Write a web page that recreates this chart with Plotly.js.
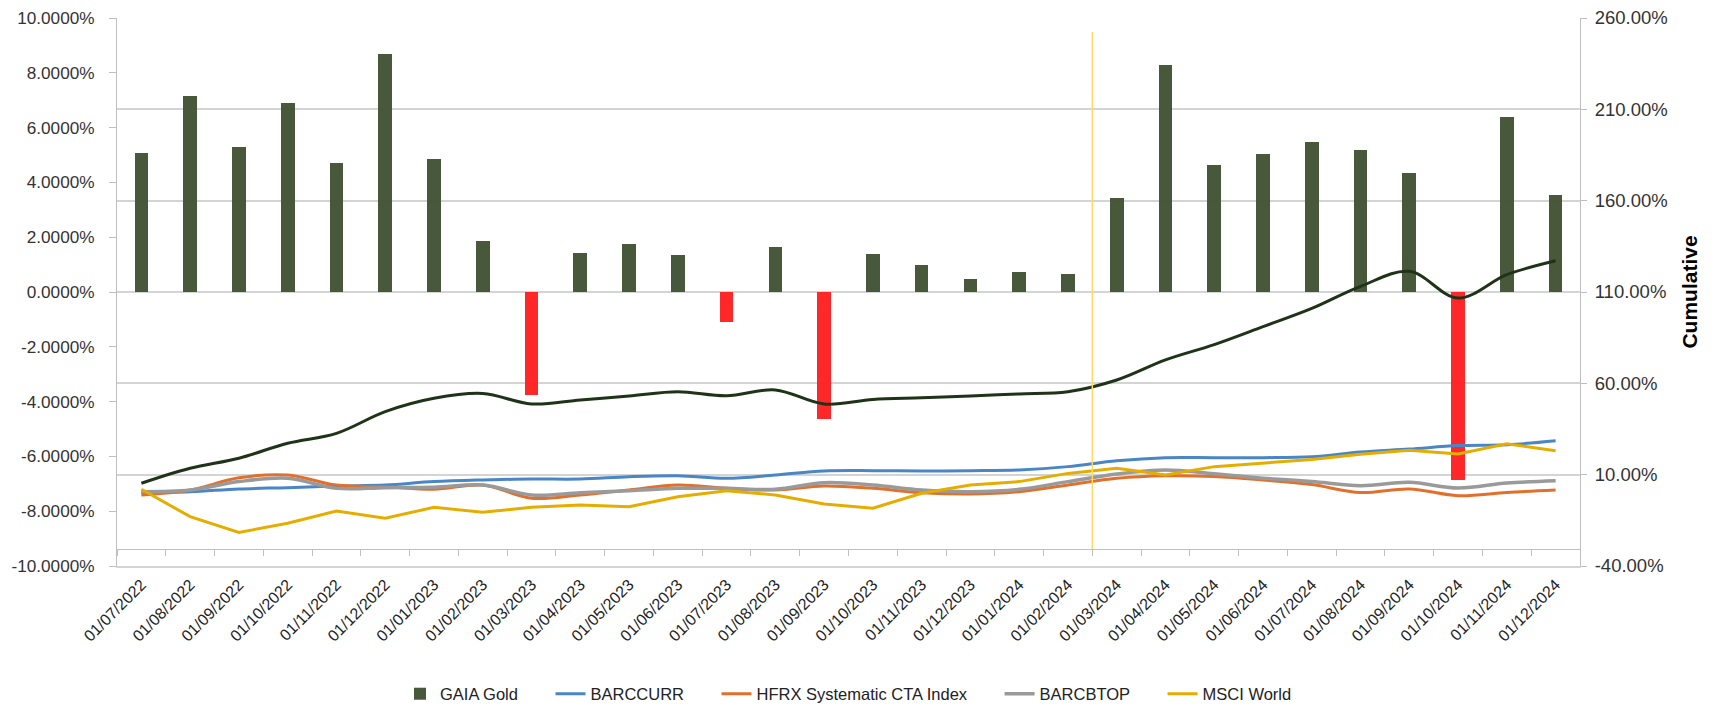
<!DOCTYPE html>
<html>
<head>
<meta charset="utf-8">
<script src="https://cdn.plot.ly/plotly-3.0.1.min.js"></script>
<style>
  html, body { margin: 0; padding: 0; background: #ffffff; }
  #chart { width: 1719px; height: 706px; }
</style>
</head>
<body>
<div id="chart"></div>
<script>
// ---- Data ----
const months = [
  '01/07/2022','01/08/2022','01/09/2022','01/10/2022','01/11/2022','01/12/2022',
  '01/01/2023','01/02/2023','01/03/2023','01/04/2023','01/05/2023','01/06/2023',
  '01/07/2023','01/08/2023','01/09/2023','01/10/2023','01/11/2023','01/12/2023',
  '01/01/2024','01/02/2024','01/03/2024','01/04/2024','01/05/2024','01/06/2024',
  '01/07/2024','01/08/2024','01/09/2024','01/10/2024','01/11/2024','01/12/2024'
];

// GAIA Gold monthly return (%), left axis
const gaiaMonthly = [
  5.06, 7.16, 5.30, 6.89, 4.70, 8.67,
  4.85, 1.85, -3.75, 1.42, 1.75, 1.34,
  -1.11, 1.66, -4.62, 1.39, 0.97, 0.47,
  0.74, 0.66, 3.43, 8.27, 4.62, 5.02,
  5.49, 5.17, 4.34, -6.85, 6.40, 3.53
];

// Cumulative series (%), right axis
const gaiaCumulative = [
  5.3, 13.5, 19.0, 27.2, 32.6, 44.5,
  51.8, 54.5, 48.7, 50.9, 53.1, 55.4,
  53.2, 56.4, 48.7, 51.2, 52.1, 53.1,
  54.2, 55.4, 61.8, 72.8, 81.2, 91.0,
  101.0, 113.1, 121.3, 106.7, 119.5, 127.1
];
const barccurr = [
  0.1, 0.7, 2.2, 2.9, 3.8, 4.3,
  6.2, 7.1, 7.6, 7.6, 8.9, 9.4,
  8.0, 9.8, 12.0, 12.2, 12.0, 12.2,
  12.6, 14.4, 17.6, 19.3, 19.3, 19.3,
  19.8, 22.4, 24.0, 25.9, 26.4, 28.6
];
const hfrx = [
  -1.1, 1.6, 8.3, 9.8, 4.3, 3.4,
  2.0, 4.3, -2.9, -1.1, 1.6, 4.3,
  2.5, 1.6, 3.8, 2.5, 0.1, -0.6,
  0.7, 4.3, 8.0, 9.4, 9.0, 7.1,
  4.6, 0.2, 2.2, -1.5, 0.3, 1.6
];
const barcbtop = [
  0.7, 1.6, 6.2, 8.0, 2.5, 2.9,
  3.1, 4.3, -1.1, 0.1, 1.2, 2.5,
  2.5, 2.0, 5.6, 4.3, 1.6, 0.7,
  2.0, 6.2, 10.4, 12.6, 10.5, 8.1,
  6.2, 4.0, 5.8, 2.7, 5.4, 6.7
];
const msciWorld = [
  2.0, -13.0, -21.6, -16.6, -9.9, -13.9,
  -7.9, -10.6, -7.9, -6.6, -7.5, -2.1,
  1.2, -1.1, -6.1, -8.4, -0.2, 4.3,
  6.2, 10.7, 13.5, 9.8, 14.4, 16.4,
  18.3, 21.2, 23.3, 21.3, 26.9, 23.1
];

// Tick values and labels
const leftTickVals = [-10, -8, -6, -4, -2, 0, 2, 4, 6, 8, 10];
const leftTickText = leftTickVals.map(v => v.toFixed(4) + '%');
const rightTickVals = [-40, 10, 60, 110, 160, 210, 260];
const rightTickText = rightTickVals.map(v => v.toFixed(2) + '%');

// ---- Styling ----
const FONT = 'Liberation Sans, Arial, sans-serif';
const TXT = '#404040';
const AXIS = '#bfbfbf';
const GRID = '#d4d4d4';
const GREEN = '#435335';
const RED = '#ff2121';
const PAD = '\u00A0'.repeat(6);   // spacing after legend entries
const X_RANGE = [-0.5, months.length - 0.5];

const traces = [
  {
    type: 'bar', name: 'GAIA Gold' + PAD, x: months, y: gaiaMonthly,
    marker: { color: gaiaMonthly.map(v => v >= 0 ? GREEN : RED), line: { width: 0 } },
    width: 0.28, xaxis: 'x', yaxis: 'y', opacity: 0.97
  },
  {
    type: 'scatter', mode: 'lines', name: 'GAIA Gold cumulative', showlegend: false,
    x: months, y: gaiaCumulative, xaxis: 'x2', yaxis: 'y2',
    line: { color: '#1f3318', width: 3, shape: 'spline', smoothing: 1 }
  },
  {
    type: 'scatter', mode: 'lines', name: 'BARCCURR' + PAD, x: months, y: barccurr, xaxis: 'x2', yaxis: 'y2',
    line: { color: '#4a86c5', width: 3, shape: 'spline', smoothing: 1 }
  },
  {
    type: 'scatter', mode: 'lines', name: 'HFRX Systematic CTA Index' + PAD, x: months, y: hfrx, xaxis: 'x2', yaxis: 'y2',
    line: { color: '#e0702b', width: 3, shape: 'spline', smoothing: 1 }
  },
  {
    type: 'scatter', mode: 'lines', name: 'BARCBTOP' + PAD, x: months, y: barcbtop, xaxis: 'x2', yaxis: 'y2',
    line: { color: '#9a9a9a', width: 3.5, shape: 'spline', smoothing: 1 }
  },
  {
    type: 'scatter', mode: 'lines', name: 'MSCI World', x: months, y: msciWorld, xaxis: 'x2', yaxis: 'y2',
    line: { color: '#e5ad00', width: 3 }
  }
];

const layout = {
  width: 1719, height: 706,
  margin: { l: 117, r: 139, t: 18, b: 140, pad: 0, autoexpand: false },
  paper_bgcolor: '#ffffff', plot_bgcolor: '#ffffff',
  font: { family: FONT, color: TXT, size: 17 },
  showlegend: true,
  bargap: 0,
  // bottom axis: carries the date labels and the bottom border line
  xaxis: {
    type: 'category', anchor: 'y', side: 'bottom',
    range: X_RANGE, categoryarray: months,
    showline: true, linecolor: GRID, linewidth: 2,
    ticks: '', tickangle: -45,
    tickfont: { family: FONT, size: 16, color: '#222' },
    ticklabelstandoff: 1,
    showgrid: false, zeroline: false, automargin: false, fixedrange: true
  },
  // category axis line with boundary ticks, crossing above the bottom
  xaxis2: {
    type: 'category', overlaying: 'x', anchor: 'free', position: 0.031,
    range: X_RANGE, categoryarray: months,
    showline: true, linecolor: AXIS, linewidth: 1,
    ticks: 'outside', tickson: 'boundaries', ticklen: 6, tickcolor: AXIS,
    showticklabels: false,
    showgrid: false, zeroline: false, automargin: false, fixedrange: true
  },
  yaxis: {
    range: [-10, 10], side: 'left', anchor: 'x',
    tickvals: leftTickVals, ticktext: leftTickText,
    showline: true, linecolor: AXIS, linewidth: 1,
    ticks: 'outside', ticklen: 7, tickcolor: AXIS,
    tickfont: { family: FONT, size: 17.2, color: '#333' },
    ticklabelstandoff: 11,
    showgrid: false, zeroline: false, automargin: false, fixedrange: true
  },
  yaxis2: {
    range: [-40, 260], side: 'right', overlaying: 'y', anchor: 'x2',
    tickvals: rightTickVals, ticktext: rightTickText,
    showline: true, linecolor: AXIS, linewidth: 1,
    ticks: 'outside', ticklen: 6, tickcolor: AXIS,
    tickfont: { family: FONT, size: 18.5, color: '#333' },
    ticklabelstandoff: 4,
    showgrid: true, gridcolor: GRID, gridwidth: 2,
    zeroline: false, automargin: false, fixedrange: true,
    title: { text: '<b>Cumulative</b>', font: { family: FONT, size: 21, color: '#000' }, standoff: 15 }
  },
  legend: {
    orientation: 'h', x: 0.5, xanchor: 'center', xref: 'paper',
    y: 0.017, yanchor: 'middle', yref: 'container',
    font: { family: FONT, size: 16.5, color: '#222' },
    bgcolor: 'rgba(0,0,0,0)', itemwidth: 30, traceorder: 'normal'
  },
  shapes: [
    {
      type: 'line', xref: 'x', yref: 'paper',
      x0: 19.5, x1: 19.5, y0: 0.031, y1: 0.9745,
      line: { color: '#ffd966', width: 1.5 }, layer: 'above'
    }
  ]
};

Plotly.newPlot('chart', traces, layout, { staticPlot: true, displayModeBar: false });
</script>
</body>
</html>
